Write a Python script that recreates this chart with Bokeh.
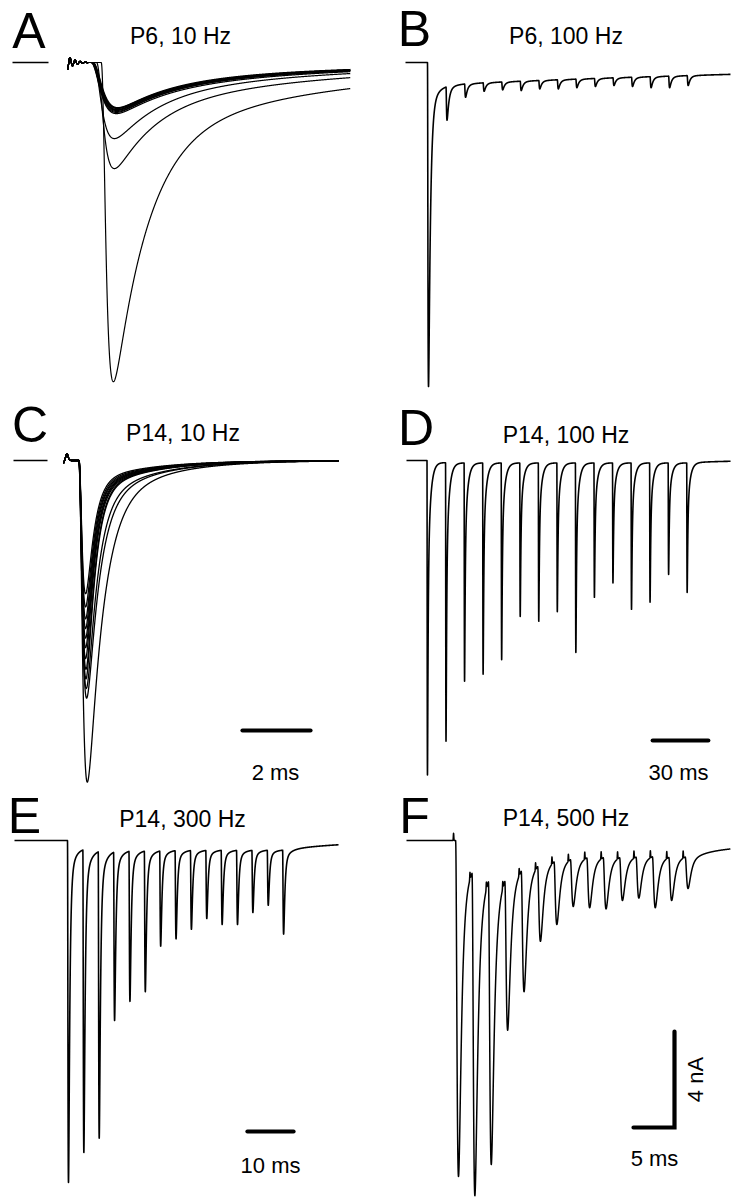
import numpy as np
from bokeh.plotting import figure
from bokeh.models import Range1d
from bokeh.layouts import column, row
from bokeh.embed import file_html
from bokeh.resources import INLINE
from bokeh.core.properties import value

# ---------------- data (ms, nA) ----------------
PX_PER_NA = 24.0  # 4 nA scale bar

# A: P6, 10 Hz - superimposed sweeps
A_peak_ms = [1.35, 1.38, 1.38, 1.44, 1.44, 1.45, 1.45, 1.46, 1.46, 1.47, 1.47, 1.48]
A_depth_nA = [13.3, 4.42, 3.17, 2.13, 2.08, 2.04, 2.0, 1.98, 1.96, 1.92, 1.9, 1.88]
A_tail_nA = [1.08, 0.63, 0.46, 0.38, 0.35, 0.35, 0.33, 0.33, 0.33, 0.31, 0.31, 0.29]
A_rise_ms = [0.10, 0.15, 0.18, 0.22, 0.22, 0.22, 0.22, 0.22, 0.22, 0.22, 0.22, 0.22]
A_decay_ms = [1.0, 1.2, 1.3, 1.5, 1.5, 1.5, 1.5, 1.5, 1.5, 1.5, 1.5, 1.5]
A_slow_ms = 6.5
A_sweep_ms = 8.32

# B: P6, 100 Hz
B_freq_hz = 100
B_first_peak_ms = 12.4
B_depth_nA = [13.5, 2.4, 1.45, 1.2, 1.14, 1.17, 1.1, 1.1, 1.05, 1.0, 0.96, 1.0, 1.05, 1.05, 0.96]
B_kin = [0.2, 1.0, 4.0, 0.05]          # rise, fast decay, slow decay, slow fraction
B_resid = [0.95, 1.5, 250.0, 250.0]    # amplitude, tau on, tau drift, tau off
B_sweep_ms = 175.2

# C: P14, 10 Hz - superimposed sweeps
C_peak_ms = [0.70, 0.68, 0.67, 0.66, 0.66, 0.65, 0.65, 0.65, 0.65, 0.65, 0.65, 0.65]
C_depth_nA = [13.4, 9.9, 9.5, 9.1, 8.7, 8.25, 7.8, 7.4, 7.0, 6.6, 6.1, 5.55]
C_decay_ms = [0.42, 0.34, 0.30, 0.24, 0.24, 0.23, 0.23, 0.23, 0.22, 0.22, 0.22, 0.22]
C_slow_frac = [0.10, 0.10, 0.09, 0.06, 0.06, 0.06, 0.06, 0.06, 0.06, 0.06, 0.06, 0.06]
C_rise_ms = 0.09
C_slow_ms = 1.6
C_sweep_ms = 8.09

# D: P14, 100 Hz
D_freq_hz = 100
D_first_peak_ms = 11.3
D_depth_nA = [13.1, 11.7, 9.2, 8.9, 8.3, 6.5, 6.7, 6.3, 8.0, 5.7, 5.1, 6.2, 5.9, 4.75, 5.5]
D_kin = [0.1, 0.3, 1.4, 0.2]
D_resid = [0.1, 5.0, 1e9, 20.0]
D_sweep_ms = 174.7

# E: P14, 300 Hz
E_freq_hz = 300
E_first_peak_ms = 11.71
E_depth_nA = [14.25, 13.0, 12.4, 7.5, 6.7, 6.3, 4.4, 4.1, 3.7, 3.25, 3.5, 3.5, 3.0, 2.7, 3.9]
E_kin = [0.1, 0.25, 1.2, 0.05]
E_resid = [0.38, 3.0, 1e9, 15.0]
E_sweep_ms = 70.3

# F: P14, 500 Hz
F_freq_hz = 500
F_first_peak_ms = 6.34
F_depth_nA = [14.0, 14.8, 13.5, 7.9, 6.3, 4.2, 3.5, 2.75, 2.8, 2.85, 2.5, 2.4, 2.8, 2.5, 2.0]
F_kin = [0.2, 0.3, 1.5, 0.05]
F_resid = [0.5, 2.0, 1e9, 12.0]
F_artifact_nA = 0.3
F_artifact_lead_ms = 0.6
F_sweep_ms = 39.5

FONT = "Liberation Sans"

# ---------------- waveform helpers ----------------
def kern(s, tr, tf, ts, fs):
    s = np.maximum(s, 0.0)
    return (1.0 - np.exp(-s / tr)) ** 3 * ((1.0 - fs) * np.exp(-s / tf) + fs * np.exp(-s / ts))


def kpeak(tr, tf, ts, fs):
    ss = np.linspace(0, 12 * tr, 6001)
    g = kern(ss, tr, tf, ts, fs)
    i = int(np.argmax(g))
    return ss[i], g[i]


def epsc(t, tp, amp, tr, tf, ts, fs):
    spk, gpk = kpeak(tr, tf, ts, fs)
    return -amp * kern(t - (tp - spk), tr, tf, ts, fs) / gpk


def residual(t, t_start, t_end, amp, ton, tdrift, toff):
    s = np.maximum(t - t_start, 0.0)
    r = amp * (1 - np.exp(-s / ton)) * np.exp(-s / tdrift)
    se = max(t_end - t_start, 0.0)
    r_end = amp * (1 - np.exp(-se / ton)) * np.exp(-se / tdrift)
    r = np.where(t > t_end, r_end * np.exp(-(t - t_end) / toff), r)
    r = np.where(t > t_start, r, 0.0)
    return -r


def train(t, peaks, depths, kin, resid):
    tr, tf, ts, fs = kin
    spk, _ = kpeak(tr, tf, ts, fs)
    I = residual(t, peaks[0] - spk, peaks[-1] + 0.5, *resid)
    for tp, d in zip(peaks, depths):
        cur = np.interp(tp, t, I)
        amp = max(d + cur, 0.02)
        I = I + epsc(t, tp, amp, tr, tf, ts, fs)
    return I


def fs_from_tail(depth, tail, t_after, tr, tf, ts):
    best, err = 0.0, 1e9
    for fs in np.linspace(0, 0.95, 191):
        spk, gpk = kpeak(tr, tf, ts, fs)
        v = depth * kern(spk + t_after, tr, tf, ts, fs) / gpk
        if abs(v - tail) < err:
            best, err = fs, abs(v - tail)
    return best


# ---------------- figure helpers ----------------
class Panel:
    def __init__(self, X0, Y0, W, H, xo, pxms, yb):
        self.xo, self.pxms, self.yb = xo, pxms, yb
        self.p = figure(width=W, height=H,
                        x_range=Range1d((X0 - xo) / pxms, (X0 + W - xo) / pxms),
                        y_range=Range1d(-(Y0 + H - yb) / PX_PER_NA, (yb - Y0) / PX_PER_NA),
                        output_backend="svg", toolbar_location=None, min_border=0,
                        x_axis_location=None, y_axis_location=None,
                        outline_line_color=None, background_fill_color="white",
                        border_fill_color="white")
        self.p.xgrid.visible = False
        self.p.ygrid.visible = False

    def X(self, px):
        return (px - self.xo) / self.pxms

    def Y(self, py):
        return -(py - self.yb) / PX_PER_NA

    def label(self, px, py, txt, size, align="center", angle=0.0):
        self.p.text(x=[self.X(px)], y=[self.Y(py)], text=[txt], text_font=value(FONT),
                    text_font_size=size, text_align=align, text_baseline="middle",
                    angle=angle, text_color="black")


def trace(pan, t, I, w):
    pan.p.line(t, I, line_color="black", line_width=w, line_join="round")


# ---------------- Panel A ----------------
pA = Panel(0, 0, 368, 395, 67, 34.0, 62)
tA = np.arange(0, A_sweep_ms, 0.004)
artA = np.where(tA < 0.6, -0.3 * np.cos(2 * np.pi * tA / 0.15) * np.exp(-tA / 0.2), 0.0)
for i in range(len(A_depth_nA)):
    fs = fs_from_tail(A_depth_nA[i], A_tail_nA[i], A_sweep_ms - A_peak_ms[i],
                      A_rise_ms[i], A_decay_ms[i], A_slow_ms)
    I = artA + epsc(tA, A_peak_ms[i], A_depth_nA[i], A_rise_ms[i], A_decay_ms[i], A_slow_ms, fs)
    trace(pA, tA, I, 1.2)
pA.p.line([pA.X(12), pA.X(48)], [0, 0], line_color="black", line_width=1.6)
pA.label(28.5, 30, "A", "50px")
pA.label(180, 35.5, "P6, 10 Hz", "23px")

# ---------------- Panel B ----------------
pB = Panel(368, 0, 368, 395, 405, 1.855, 62)
tB = np.arange(0, B_sweep_ms, 0.01)
B_peaks = [B_first_peak_ms + k * 1000.0 / B_freq_hz for k in range(len(B_depth_nA))]
IB = train(tB, B_peaks, B_depth_nA, B_kin, B_resid)
trace(pB, tB, IB, 1.6)
pB.label(414, 28, "B", "50px")
pB.label(565.5, 35, "P6, 100 Hz", "23px")

# ---------------- Panel C ----------------
pC = Panel(0, 395, 368, 390, 63, 34.0, 460)
tC = np.arange(0, C_sweep_ms, 0.004)
artC = 0.28 * np.exp(-((tC - 0.10) / 0.05) ** 2) - 0.12 * np.exp(-tC / 0.03)
for i in range(len(C_depth_nA)):
    I = artC + epsc(tC, C_peak_ms[i], C_depth_nA[i], C_rise_ms, C_decay_ms[i], C_slow_ms, C_slow_frac[i])
    trace(pC, tC, I, 1.3)
pC.p.line([pC.X(13), pC.X(47)], [0, 0], line_color="black", line_width=1.6)
pC.label(29.5, 424, "C", "50px")
pC.label(182.5, 432.8, "P14, 10 Hz", "23px")
pC.p.line([pC.X(276) - 1.0, pC.X(276) + 1.0], [pC.Y(730)] * 2, line_color="black",
          line_width=4.2, line_cap="round")
pC.label(275, 771.5, "2 ms", "22px")

# ---------------- Panel D ----------------
pD = Panel(368, 395, 368, 390, 406, 1.855, 460)
tD = np.arange(0, D_sweep_ms, 0.01)
D_peaks = [D_first_peak_ms + k * 1000.0 / D_freq_hz for k in range(len(D_depth_nA))]
ID = train(tD, D_peaks, D_depth_nA, D_kin, D_resid)
trace(pD, tD, ID, 1.6)
pD.label(415.5, 427, "D", "50px")
pD.label(565.5, 434, "P14, 100 Hz", "23px")
pD.p.line([pD.X(680) - 15.0, pD.X(680) + 15.0], [pD.Y(740)] * 2, line_color="black",
          line_width=4.2, line_cap="round")
pD.label(678, 772, "30 ms", "22px")

# ---------------- Panel E ----------------
pE = Panel(0, 785, 368, 414, 14, 4.61, 840)
tE = np.arange(0, E_sweep_ms, 0.005)
E_peaks = [E_first_peak_ms + k * 1000.0 / E_freq_hz for k in range(len(E_depth_nA))]
IE = train(tE, E_peaks, E_depth_nA, E_kin, E_resid)
trace(pE, tE, IE, 1.6)
pE.label(24, 815, "E", "50px")
pE.label(182, 818.8, "P14, 300 Hz", "23px")
pE.p.line([pE.X(270) - 5.0, pE.X(270) + 5.0], [pE.Y(1131)] * 2, line_color="black",
          line_width=4.2, line_cap="round")
pE.label(270, 1165, "10 ms", "22px")

# ---------------- Panel F ----------------
pF = Panel(368, 785, 368, 414, 406, 8.2, 840)
tF = np.arange(0, F_sweep_ms, 0.003)
F_peaks = [F_first_peak_ms + k * 1000.0 / F_freq_hz for k in range(len(F_depth_nA))]
IF = train(tF, F_peaks, F_depth_nA, F_kin, F_resid)
for tp in F_peaks:
    IF = IF + F_artifact_nA * np.exp(-((tF - (tp - F_artifact_lead_ms)) / 0.04) ** 2)
trace(pF, tF, IF, 1.5)
pF.label(414, 815, "F", "50px")
pF.label(565.5, 817.5, "P14, 500 Hz", "23px")
xr = pF.X(674)
yb0 = pF.Y(1127)
pF.p.line([xr - 5.0, xr, xr], [yb0, yb0, yb0 + 4.0], line_color="black",
          line_width=4.2, line_cap="round", line_join="miter")
pF.label(654, 1158, "5 ms", "22px")
pF.label(695, 1079, "4 nA", "22px", angle=np.pi / 2)

layout = row(column(pA.p, pC.p, pE.p, spacing=0), column(pB.p, pD.p, pF.p, spacing=0), spacing=0)

open("out.html", "w").write(file_html(layout, INLINE))
